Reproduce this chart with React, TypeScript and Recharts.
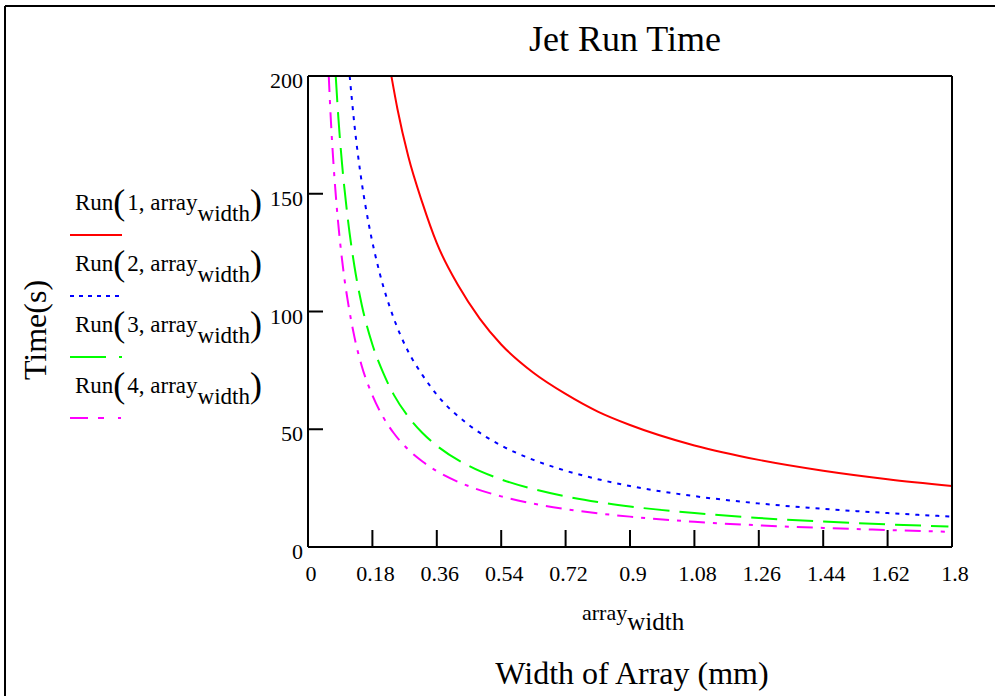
import React from "react";
import { LineChart, Line, XAxis, YAxis, Legend } from "recharts";

const FONT = "'Liberation Serif', 'Times New Roman', serif";

const widthTicks = [0, 0.18, 0.36, 0.54, 0.72, 0.9, 1.08, 1.26, 1.44, 1.62, 1.8];
const timeTicks = [0, 50, 100, 150, 200];

// Run(1, array_width)
const run1Width = [0.233, 0.25, 0.28, 0.32, 0.36, 0.42, 0.48, 0.54, 0.63, 0.72, 0.81, 0.9, 1.08, 1.26, 1.44, 1.62, 1.8];
const run1Time = [200, 186, 166, 146, 129, 111, 97, 86, 74, 65, 57.5, 51.8, 43.1, 37, 32.4, 28.8, 25.9];

// Run(2, array_width)
const run2Width = [0.1165, 0.13, 0.15, 0.17, 0.2, 0.24, 0.28, 0.32, 0.36, 0.45, 0.54, 0.63, 0.72, 0.81, 0.9, 1.08, 1.26, 1.44, 1.62, 1.8];
const run2Time = [200, 179, 155, 137, 116.5, 97, 83, 73, 64.7, 51.8, 43.1, 37, 32.4, 28.8, 25.9, 21.6, 18.5, 16.2, 14.4, 12.9];

// Run(3, array_width)
const run3Width = [0.0775, 0.085, 0.095, 0.11, 0.13, 0.15, 0.18, 0.21, 0.24, 0.28, 0.32, 0.36, 0.45, 0.54, 0.63, 0.72, 0.81, 0.9, 1.08, 1.26, 1.44, 1.62, 1.79];
const run3Time = [200, 182, 163, 141, 119, 103, 86, 74, 64.6, 55.4, 48.4, 43, 34.4, 28.7, 24.6, 21.5, 19.1, 17.2, 14.4, 12.3, 10.8, 9.6, 8.7];

// Run(4, array_width)
const run4Width = [0.058, 0.064, 0.072, 0.08, 0.09, 0.1, 0.115, 0.13, 0.15, 0.18, 0.21, 0.24, 0.28, 0.32, 0.36, 0.45, 0.54, 0.63, 0.72, 0.81, 0.9, 1.08, 1.26, 1.44, 1.62, 1.78];
const run4Time = [200, 181, 161, 145, 129, 116, 101, 89, 77, 64.4, 55.2, 48.3, 41.4, 36.3, 32.2, 25.8, 21.5, 18.4, 16.1, 14.3, 12.9, 10.7, 9.2, 8.1, 7.2, 6.5];

const runIndex = ["1", "2", "3", "4"];
const runColors = ["#ff0000", "#0000ff", "#00ff00", "#ff00ff"];
const runDash = ["", "4 6", "26 10", "16 8 4 8"];
const legendDash = ["", "4 5", "36 13 3 200", "18 10 6 14 3 200"];

const toPoints = (ws: number[], ts: number[]) => ws.map((w, i) => ({ w, t: ts[i] }));
const runData = [
  toPoints(run1Width, run1Time),
  toPoints(run2Width, run2Time),
  toPoints(run3Width, run3Time),
  toPoints(run4Width, run4Time),
];

const XTick = ({ x, y, payload }: any) => (
  <text x={x + 3} y={y + 34} textAnchor="middle" fontFamily={FONT} fontSize={22} fill="#000">
    {payload.value}
  </text>
);

const YTick = ({ x, y, payload }: any) => (
  <text x={x - 5} y={y + 12} textAnchor="end" fontFamily={FONT} fontSize={22} fill="#000">
    {payload.value}
  </text>
);

const renderLegend = () => (
  <svg width={300} height={450} style={{ display: "block" }}>
    {runIndex.map((n, i) => {
      const base = 210 + i * 61;
      return (
        <g key={n}>
          <text x={75} y={base} fontFamily={FONT} fontSize={23} fill="#000">
            Run
            <tspan fontSize={36} dy={4}>(</tspan>
            <tspan fontSize={23} dy={-4} dx={2}>{n}, array</tspan>
            <tspan dy={11}>width</tspan>
            <tspan fontSize={36} dy={-7}>)</tspan>
          </text>
          <line
            x1={70}
            x2={122}
            y1={base + 25}
            y2={base + 25}
            stroke={runColors[i]}
            strokeWidth={2}
            strokeDasharray={legendDash[i]}
          />
        </g>
      );
    })}
  </svg>
);

export default function App() {
  return (
    <div style={{ position: "absolute", left: 0, top: 0, width: 995, height: 696, background: "#fff", overflow: "hidden" }}>
      <LineChart width={995} height={696} margin={{ top: 66, right: 33, bottom: 109, left: 258 }}>
        <XAxis
          dataKey="w"
          type="number"
          domain={[0, 1.8]}
          allowDataOverflow
          ticks={widthTicks}
          interval={0}
          height={40}
          tickSize={-17}
          tickMargin={17}
          tick={<XTick />}
          axisLine={{ stroke: "#000", strokeWidth: 2 }}
          tickLine={{ stroke: "#000", strokeWidth: 2 }}
        />
        <XAxis
          xAxisId="top"
          orientation="top"
          type="number"
          domain={[0, 1.8]}
          allowDataOverflow
          ticks={widthTicks}
          interval={0}
          height={10}
          tickSize={-17}
          tick={false}
          axisLine={{ stroke: "#000", strokeWidth: 2 }}
          tickLine={{ stroke: "#000", strokeWidth: 2 }}
        />
        <YAxis
          type="number"
          domain={[0, 200]}
          allowDataOverflow
          ticks={timeTicks}
          interval={0}
          width={50}
          tickSize={-15}
          tickMargin={15}
          tick={<YTick />}
          axisLine={{ stroke: "#000", strokeWidth: 2 }}
          tickLine={{ stroke: "#000", strokeWidth: 2 }}
        />
        <YAxis
          yAxisId="right"
          orientation="right"
          type="number"
          domain={[0, 200]}
          allowDataOverflow
          ticks={timeTicks}
          interval={0}
          width={10}
          tickSize={-17}
          tick={false}
          axisLine={{ stroke: "#000", strokeWidth: 2 }}
          tickLine={{ stroke: "#000", strokeWidth: 2 }}
        />
        {runData.map((d, i) => (
          <Line
            key={runIndex[i]}
            data={d}
            dataKey="t"
            name={`Run(${runIndex[i]}, array_width)`}
            type="monotone"
            stroke={runColors[i]}
            strokeWidth={2}
            strokeDasharray={runDash[i] || undefined}
            dot={false}
            activeDot={false}
            isAnimationActive={false}
          />
        ))}
        <Legend
          layout="vertical"
          align="center"
          verticalAlign="middle"
          content={renderLegend}
          wrapperStyle={{ position: "absolute", left: 0, top: 0, width: 300, height: 450 }}
        />
      </LineChart>
      <svg
        width={995}
        height={696}
        style={{ position: "absolute", left: 0, top: 0, pointerEvents: "none" }}
      >
        <line x1={5} y1={6} x2={995} y2={6} stroke="#000" strokeWidth={2} />
        <line x1={5} y1={6} x2={5} y2={696} stroke="#000" strokeWidth={2} />
        <text x={625} y={51} textAnchor="middle" fontFamily={FONT} fontSize={36} fill="#000">
          Jet Run Time
        </text>
        <text
          x={46}
          y={330}
          textAnchor="middle"
          fontFamily={FONT}
          fontSize={32}
          fill="#000"
          transform="rotate(-90 46 330)"
        >
          Time(s)
        </text>
        <text x={582} y={620} fontFamily={FONT} fontSize={22} fill="#000">
          array
          <tspan fontSize={25} dy={10}>width</tspan>
        </text>
        <text x={632} y={684} textAnchor="middle" fontFamily={FONT} fontSize={32} fill="#000">
          Width of Array (mm)
        </text>
      </svg>
    </div>
  );
}
